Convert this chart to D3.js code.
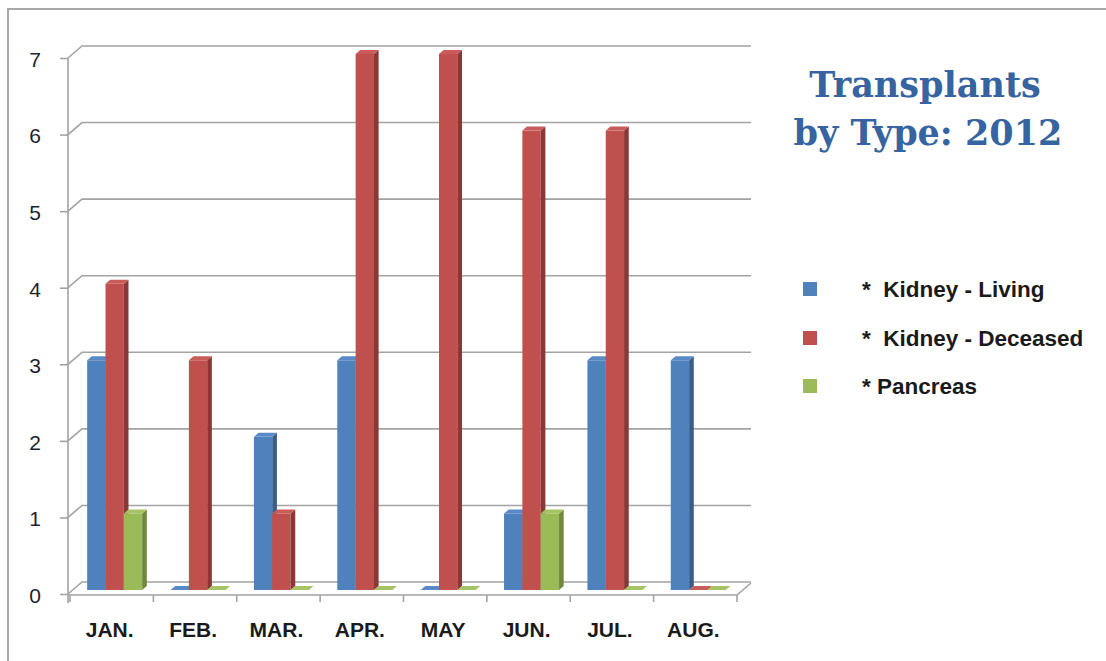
<!DOCTYPE html>
<html>
<head>
<meta charset="utf-8">
<script src="https://cdn.jsdelivr.net/npm/d3@7"></script>
<style>
  html, body { margin: 0; padding: 0; background: #fff; }
  svg { display: block; }
</style>
</head>
<body>
<svg id="chart" width="1106" height="661"></svg>
<script>
// ---- Data ----
const categories = ["JAN.", "FEB.", "MAR.", "APR.", "MAY", "JUN.", "JUL.", "AUG."];
const seriesNames = ["*  Kidney - Living", "*  Kidney - Deceased", "* Pancreas"];
const kidneyLiving = [3, 0, 2, 3, 0, 1, 3, 3];
const kidneyDeceased = [4, 3, 1, 7, 7, 6, 6, 0];
const pancreas = [1, 0, 0, 0, 0, 1, 0, 0];
const yTickValues = [0, 1, 2, 3, 4, 5, 6, 7];
const titleLines = ["Transplants", "by Type: 2012"];

// ---- Styles ----
const frontColors = ["#4F81BD", "#C0504D", "#9BBB59"];
const sideColors = ["#385D8A", "#8A3836", "#71893F"];
const topColors = ["#5A8AC6", "#C95B58", "#A6C466"];
const gridColor = "#a3a3a3";

const svg = d3.select("#chart");

// outer border
svg.append("path")
  .attr("d", "M8,661 L8,9 L1106,9")
  .attr("fill", "none").attr("stroke", "#a8a8a8").attr("stroke-width", 2);

const seriesData = [kidneyLiving, kidneyDeceased, pancreas];

const x = d3.scaleBand().domain(categories).range([70, 737]).padding(0);
const xs = d3.scaleBand().domain(d3.range(seriesData.length)).range([12.5, 12.5 + 55]).padding(0);
const y = d3.scaleLinear().domain([0, 7]).range([594, 58]);

const DX = 14, DY = -12;        // depth vector of the 3D floor/walls
const axisLeft = 68;

const grid = svg.append("g");
// back wall gridlines + diagonals
yTickValues.forEach(v => {
  const yy = y(v);
  grid.append("path")
    .attr("d", `M${axisLeft},${yy} L${axisLeft + DX},${yy + DY} L${x.range()[1] + DX},${yy + DY}`)
    .attr("fill", "none").attr("stroke", gridColor).attr("stroke-width", 1.6);
});
// floor front edge + right diagonal
grid.append("path")
  .attr("d", `M${axisLeft},${y(0) + 1} L${x.range()[1]},${y(0) + 1} L${x.range()[1] + DX},${y(0) + 1 + DY}`)
  .attr("fill", "none").attr("stroke", gridColor).attr("stroke-width", 1.6);

// y axis (front)
const yAxis = d3.axisLeft(y).tickValues(yTickValues).tickSize(8).tickPadding(19).tickFormat(d3.format("d"));
const gy = svg.append("g").attr("transform", `translate(${axisLeft},0)`).call(yAxis);
gy.select(".domain").attr("d", `M0,${y(7)}V${y(0) + 9}`).attr("stroke", gridColor).attr("stroke-width", 1.6);
gy.selectAll(".tick line").attr("stroke", gridColor).attr("stroke-width", 1.6);
gy.selectAll(".tick text")
  .attr("font-family", "Liberation Sans, Arial, sans-serif")
  .attr("font-size", 21).attr("fill", "#1f1f2e").attr("dy", "0.4em");

// x axis ticks at band boundaries
const xBoundaries = categories.map(c => x(c)).concat([x.range()[1]]);
svg.append("g").selectAll("line").data(xBoundaries).join("line")
  .attr("x1", d => d).attr("x2", d => d)
  .attr("y1", y(0) + 1).attr("y2", y(0) + 8)
  .attr("stroke", gridColor).attr("stroke-width", 1.6);

// x labels
svg.append("g").selectAll("text").data(categories).join("text")
  .attr("x", d => x(d) + x.bandwidth() / 2 - 2)
  .attr("y", 637)
  .attr("text-anchor", "middle")
  .attr("font-family", "Liberation Sans, Arial, sans-serif")
  .attr("font-weight", "bold").attr("font-size", 21)
  .attr("fill", "#1a1a1a")
  .text(d => d);

// bars
const sdx = DX / 3, sdy = DY / 3;
const bars = svg.append("g");
categories.forEach((c, ci) => {
  seriesData.forEach((arr, si) => {
    const v = arr[ci];
    const x0 = x(c) + xs(si) + sdx;
    const w = xs.bandwidth();
    const yBot = y(0) + sdy;
    const yTop = y(v) + sdy;
    const g = bars.append("g");
    if (v > 0) {
      g.append("rect").attr("x", x0).attr("y", yTop).attr("width", w).attr("height", yBot - yTop)
        .attr("fill", frontColors[si]);
      g.append("path")
        .attr("d", `M${x0 + w},${yTop} L${x0 + w + sdx},${yTop + sdy} L${x0 + w + sdx},${yBot + sdy} L${x0 + w},${yBot} Z`)
        .attr("fill", sideColors[si]);
    }
    g.append("path")
      .attr("d", `M${x0},${yTop} L${x0 + sdx},${yTop + sdy} L${x0 + w + sdx},${yTop + sdy} L${x0 + w},${yTop} Z`)
      .attr("fill", topColors[si]);
  });
});

// title
const title = svg.append("text")
  .attr("text-anchor", "middle")
  .attr("font-family", "DejaVu Serif, serif")
  .attr("font-weight", "bold").attr("font-size", 35)
  .attr("fill", "#3564A0");
title.append("tspan").attr("x", 925).attr("y", 97).text(titleLines[0]);
title.append("tspan").attr("x", 928).attr("y", 145).text(titleLines[1]);

// legend
const legendY = [289, 338, 386];
const legend = svg.append("g");
seriesNames.forEach((name, i) => {
  legend.append("rect").attr("x", 803).attr("y", legendY[i] - 7).attr("width", 14).attr("height", 14)
    .attr("fill", frontColors[i]);
  legend.append("text")
    .attr("x", 862).attr("y", legendY[i] + 8)
    .attr("font-family", "Liberation Sans, Arial, sans-serif")
    .attr("font-weight", "bold").attr("font-size", 22.5)
    .attr("fill", "#1a1a1a")
    .style("white-space", "pre")
    .text(name);
});
</script>
</body>
</html>
